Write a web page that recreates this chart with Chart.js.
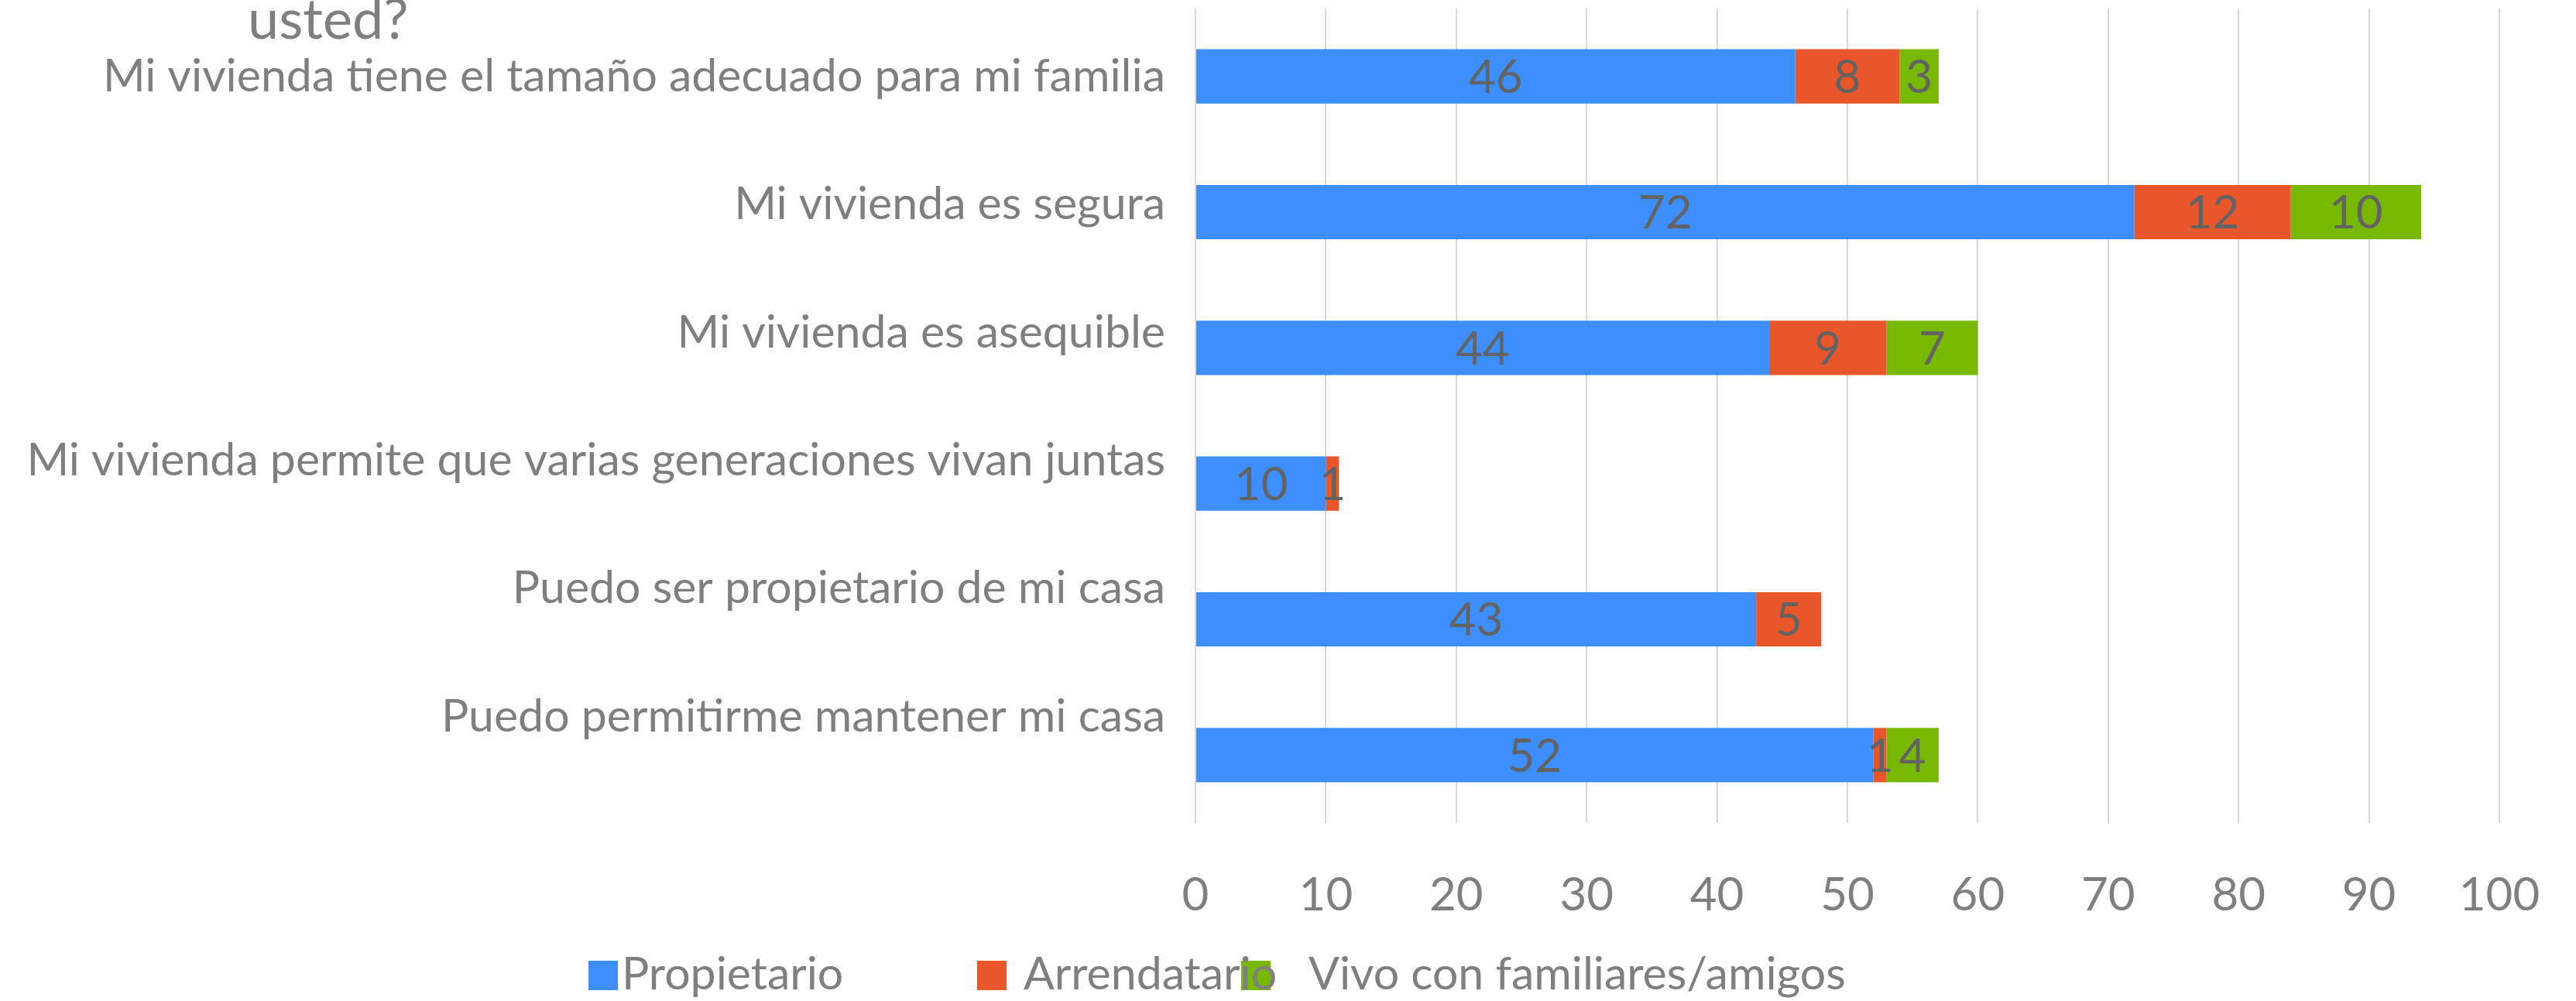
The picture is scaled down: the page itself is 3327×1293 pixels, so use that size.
<!DOCTYPE html>
<html>
<head>
<meta charset="utf-8">
<script src="https://cdn.jsdelivr.net/npm/chart.js@4.4.1/dist/chart.umd.min.js"></script>
<style>
  html, body { margin: 0; padding: 0; background: #fff; }
  #wrap { width: 3327px; height: 1293px; position: relative; }
</style>
</head>
<body>
<div id="wrap"><canvas id="myChart"></canvas></div>
<script>
const categories = [
  "Mi vivienda tiene el tamaño adecuado para mi familia",
  "Mi vivienda es segura",
  "Mi vivienda es asequible",
  "Mi vivienda permite que varias generaciones vivan juntas",
  "Puedo ser propietario de mi casa",
  "Puedo permitirme mantener mi casa"
];
const seriesNames = ["Propietario", "Arrendatario", "Vivo con familiares/amigos"];
const propietario = [46, 72, 44, 10, 43, 52];
const arrendatario = [8, 12, 9, 1, 5, 1];
const vivoFamiliares = [3, 10, 7, 0, 0, 4];
const titleText = "usted?";

const FONT = "Lato, 'Open Sans', sans-serif";
const colors = ["#3d8eff", "#e8562a", "#77b900"];
const textGrey = "#7f7f7f";
const labelGrey = "#636363";

// labels sit on a slightly tighter spacing than the bars
const labelAxisMin = -0.53;
const labelAxisMax = 5.83;

const valueLabels = {
  id: "valueLabels",
  afterDatasetsDraw(chart) {
    const ctx = chart.ctx;
    ctx.save();
    ctx.font = "60px " + FONT;
    ctx.fillStyle = labelGrey;
    ctx.textAlign = "center";
    ctx.textBaseline = "middle";
    chart.data.datasets.forEach((ds, i) => {
      const meta = chart.getDatasetMeta(i);
      meta.data.forEach((bar, j) => {
        const v = ds.data[j];
        if (!v) return;
        const p = bar.getCenterPoint();
        ctx.fillText(String(v), p.x, p.y + 2);
      });
    });
    ctx.restore();
  }
};

const legendSpots = [
  { box: 760, text: 803 },
  { box: 1262, text: 1322 },
  { box: 1603, text: 1690 }
];

const bottomLegend = {
  id: "bottomLegend",
  afterDraw(chart) {
    const ctx = chart.ctx;
    ctx.save();
    chart.data.datasets.forEach((ds, i) => {
      ctx.fillStyle = ds.backgroundColor;
      ctx.fillRect(legendSpots[i].box, 1241, 38, 38);
    });
    ctx.font = "59px " + FONT;
    ctx.fillStyle = textGrey;
    ctx.textAlign = "left";
    ctx.textBaseline = "alphabetic";
    chart.data.datasets.forEach((ds, i) => {
      ctx.fillText(ds.label, legendSpots[i].text, 1278);
    });
    ctx.restore();
  }
};

const cutTitle = {
  id: "cutTitle",
  afterDraw(chart) {
    const ctx = chart.ctx;
    ctx.save();
    ctx.font = "72px " + FONT;
    ctx.fillStyle = textGrey;
    ctx.textAlign = "left";
    ctx.textBaseline = "alphabetic";
    ctx.fillText(titleText, 320, 50);
    ctx.restore();
  }
};

new Chart(document.getElementById("myChart"), {
  type: "bar",
  data: {
    labels: categories,
    datasets: [
      { label: seriesNames[0], data: propietario, backgroundColor: colors[0] },
      { label: seriesNames[1], data: arrendatario, backgroundColor: colors[1] },
      { label: seriesNames[2], data: vivoFamiliares, backgroundColor: colors[2] }
    ].map(d => Object.assign(d, { barPercentage: 0.4, categoryPercentage: 1.0, borderWidth: 0 }))
  },
  options: {
    indexAxis: "y",
    responsive: true,
    maintainAspectRatio: false,
    animation: false,
    layout: { padding: { top: 11, right: 99, left: 0, bottom: 0 } },
    plugins: {
      legend: { display: false },
      title: { display: false },
      tooltip: { enabled: false }
    },
    scales: {
      x: {
        stacked: true,
        min: 0,
        max: 100,
        grid: { color: "#d9d9d9", lineWidth: 2, drawTicks: false },
        border: { display: false },
        ticks: {
          stepSize: 10,
          color: textGrey,
          padding: 58,
          font: { family: FONT, size: 60 }
        },
        afterFit: (s) => { s.height = 230; s.paddingLeft = 0; s.paddingRight = 0; }
      },
      y: {
        stacked: true,
        display: false
      },
      yl: {
        type: "linear",
        position: "left",
        reverse: true,
        offset: false,
        min: labelAxisMin,
        max: labelAxisMax,
        grid: { display: false },
        border: { display: false },
        afterBuildTicks: (s) => { s.ticks = categories.map((_, i) => ({ value: i })); },
        ticks: {
          color: textGrey,
          padding: 31,
          font: { family: FONT, size: 59 },
          callback: (v) => categories[v]
        },
        afterFit: (s) => { s.width = 1544; s.paddingTop = 0; s.paddingBottom = 0; }
      }
    }
  },
  plugins: [valueLabels, bottomLegend, cutTitle]
});
</script>
</body>
</html>
